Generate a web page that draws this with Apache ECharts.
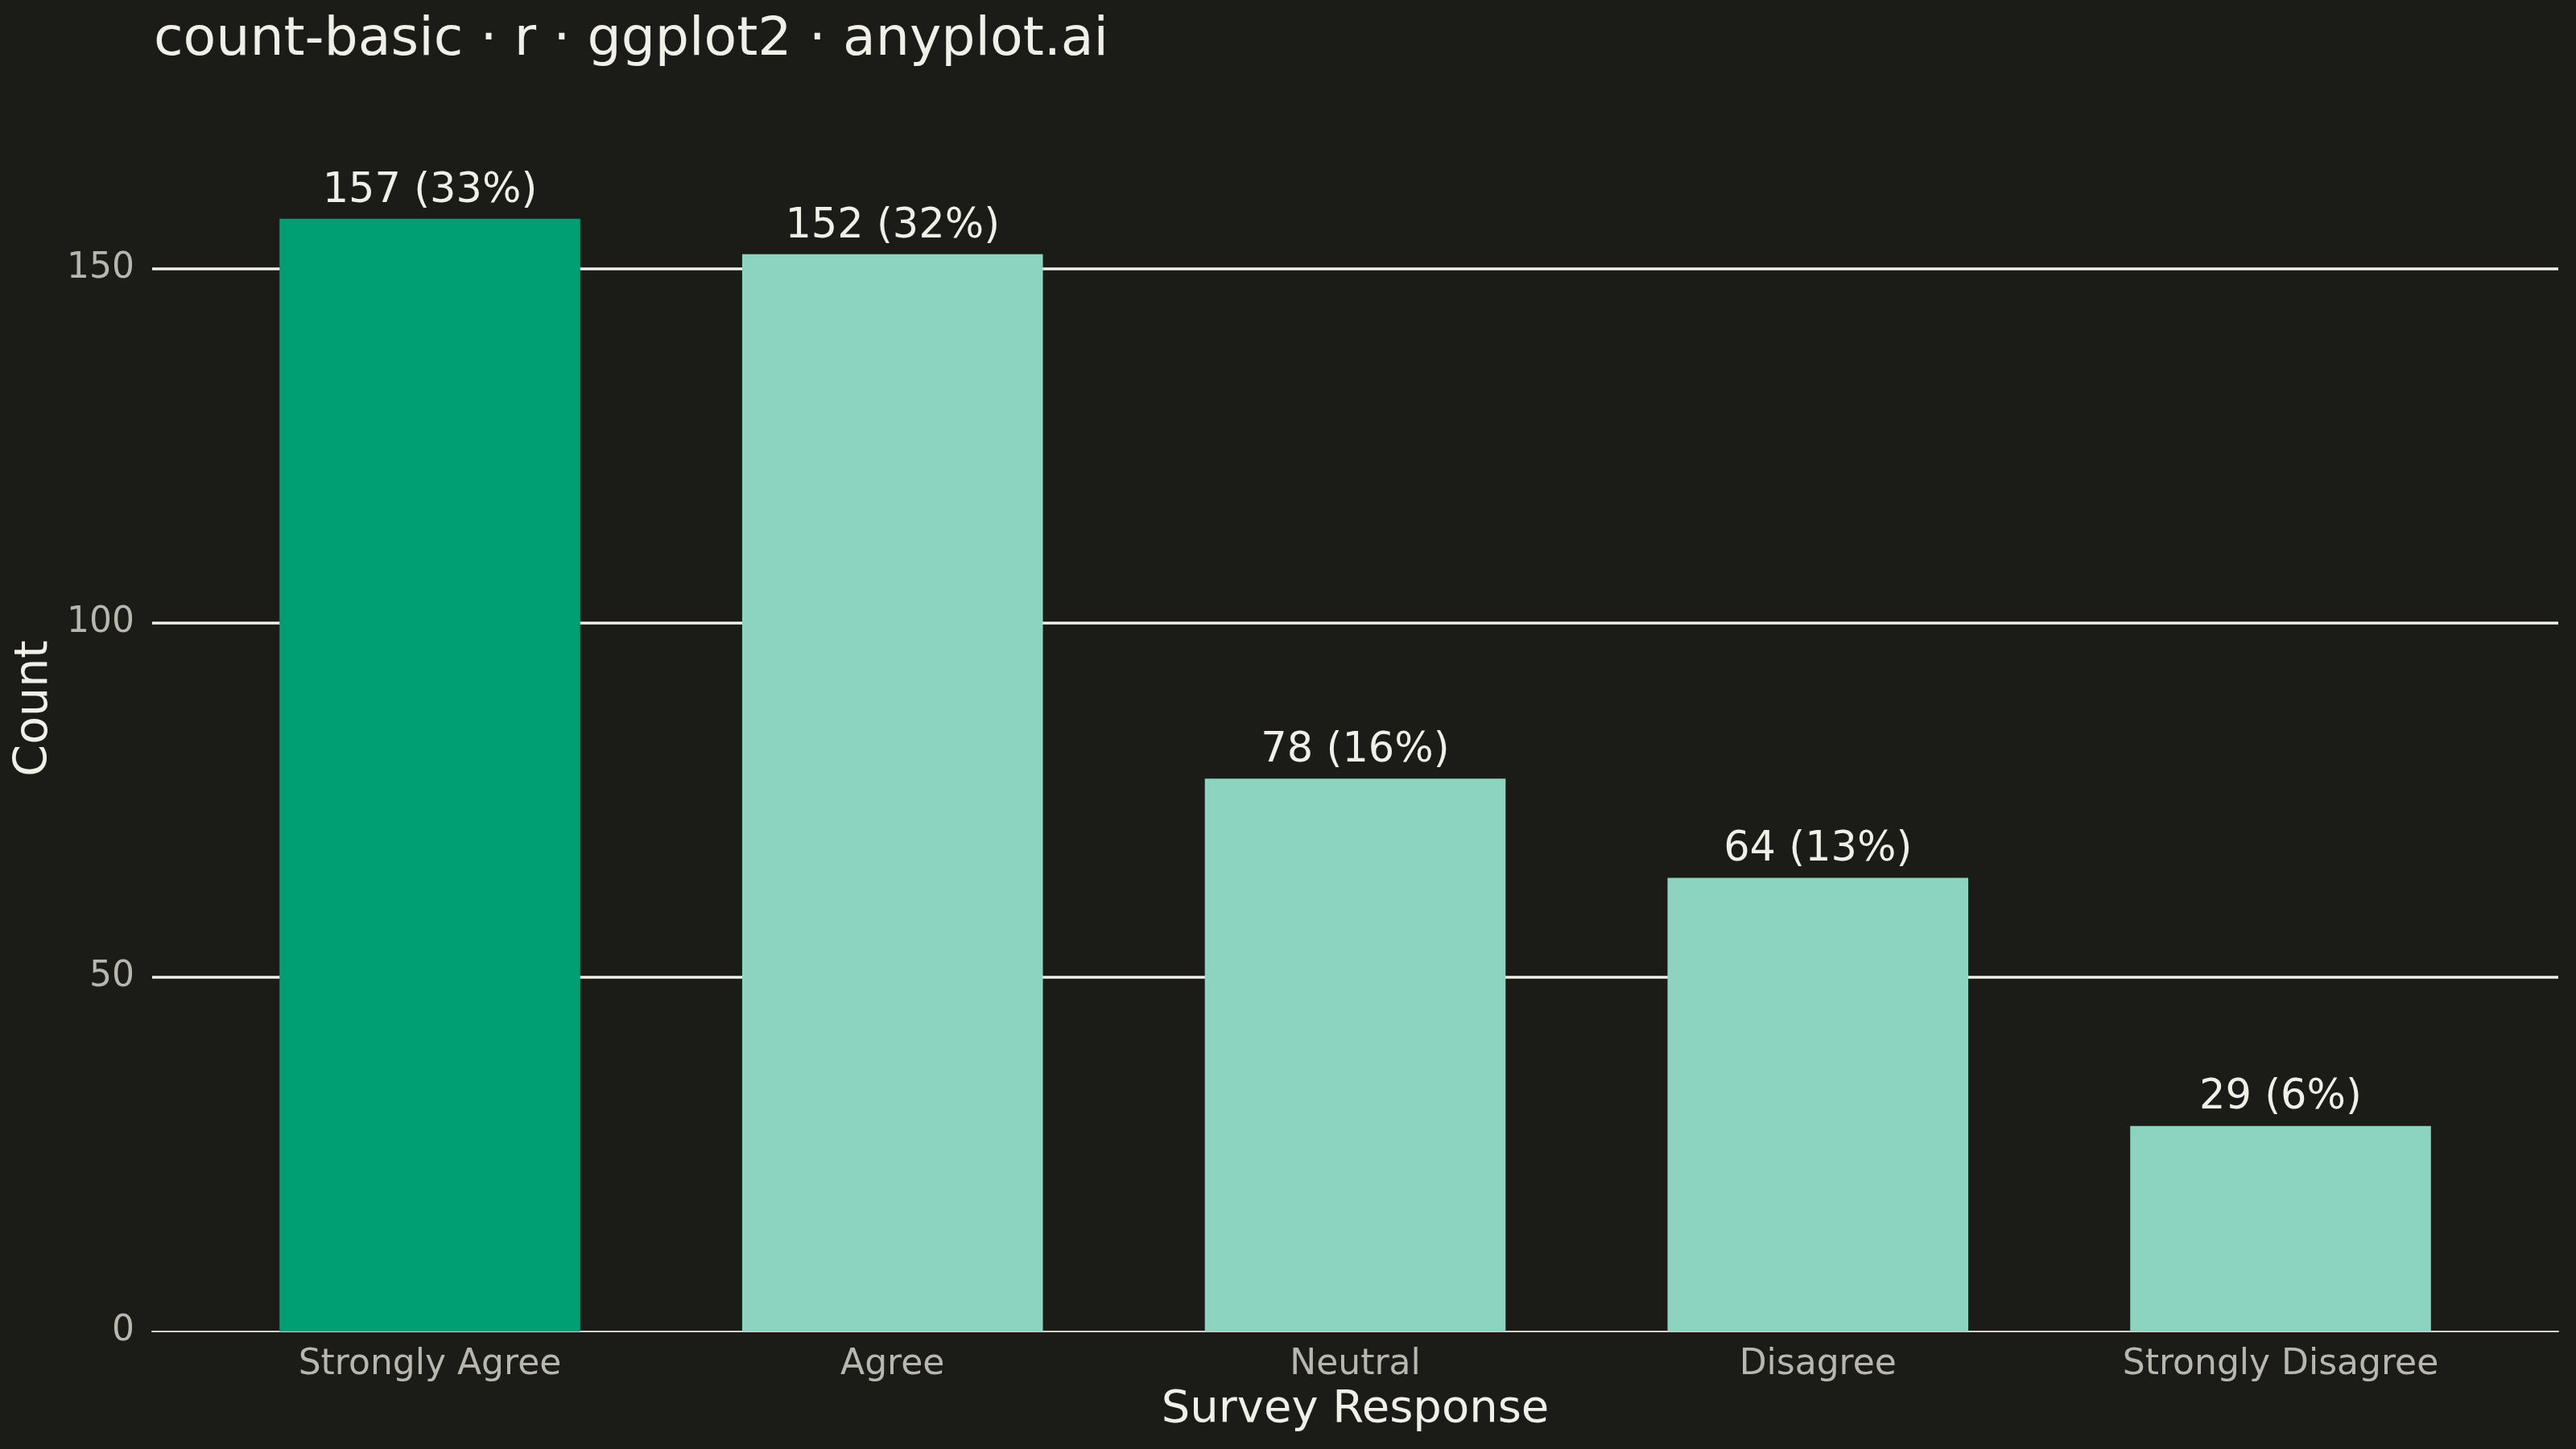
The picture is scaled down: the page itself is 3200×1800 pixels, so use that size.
<!DOCTYPE html>
<html>
<head>
<meta charset="utf-8">
<script src="https://cdn.jsdelivr.net/npm/echarts@6/dist/echarts.min.js"></script>
<style>
html,body{margin:0;padding:0;background:#1b1b17;}
#c{width:3200px;height:1800px;}
</style>
</head>
<body>
<div id="c"></div>
<script>
const categories = ['Strongly Agree', 'Agree', 'Neutral', 'Disagree', 'Strongly Disagree'];
const counts = [157, 152, 78, 64, 29];
const yTicks = [0, 50, 100, 150];
const titleText = 'count-basic · r · ggplot2 · anyplot.ai';

const total = counts.reduce((a, b) => a + b, 0);
const yMax = Math.max(...counts) * 1.12;
const FONT = 'DejaVu Sans';

const chart = echarts.init(document.getElementById('c'), null, {renderer: 'canvas'});
chart.setOption({
  backgroundColor: '#1b1b17',
  animation: false,
  title: {
    text: titleText,
    left: 186,
    top: 12,
    textStyle: {color: '#f0efe8', fontSize: 66.5, fontWeight: 'normal', fontFamily: FONT}
  },
  grid: [
    {left: 189, right: 22, top: 106, bottom: 146},
    {left: 246.6, right: 79.6, top: 106, bottom: 146}
  ],
  xAxis: [
    {
      gridIndex: 0, type: 'value', min: 0, max: 1,
      axisLine: {show: true, lineStyle: {color: '#d6d4cc', width: 2}},
      axisTick: {show: false}, axisLabel: {show: false}, splitLine: {show: false}
    },
    {
      gridIndex: 1, type: 'category', data: categories,
      axisLine: {show: false}, axisTick: {show: false},
      axisLabel: {color: '#b8b7af', fontSize: 44, fontFamily: FONT, margin: 20},
      name: 'Survey Response', nameLocation: 'middle', nameGap: 69,
      nameTextStyle: {color: '#f0efe8', fontSize: 56, fontFamily: FONT}
    }
  ],
  yAxis: [
    {
      gridIndex: 0, type: 'value', min: 0, max: yMax,
      axisLine: {show: false},
      axisTick: {show: false, customValues: yTicks},
      axisLabel: {color: '#b8b7af', fontSize: 44, fontFamily: FONT, margin: 22, customValues: yTicks},
      splitLine: {show: true, lineStyle: {color: ['rgba(0,0,0,0)', '#f0efe8', '#f0efe8', '#f0efe8'], width: 3.5}},
      name: 'Count', nameLocation: 'middle', nameGap: 111,
      nameTextStyle: {color: '#f0efe8', fontSize: 57, fontFamily: FONT}
    },
    {gridIndex: 1, type: 'value', show: false, min: 0, max: yMax}
  ],
  series: [{
    type: 'bar',
    xAxisIndex: 1, yAxisIndex: 1,
    barWidth: '65%',
    data: counts.map((v, i) => ({
      value: v,
      itemStyle: {color: i === 0 ? '#009e73' : '#8cd3c0'}
    })),
    label: {
      show: true, position: 'top', distance: 9,
      color: '#f0efe8', fontSize: 51, fontFamily: FONT,
      formatter: p => p.value + ' (' + Math.round(p.value / total * 100) + '%)'
    }
  }]
});
</script>
</body>
</html>
